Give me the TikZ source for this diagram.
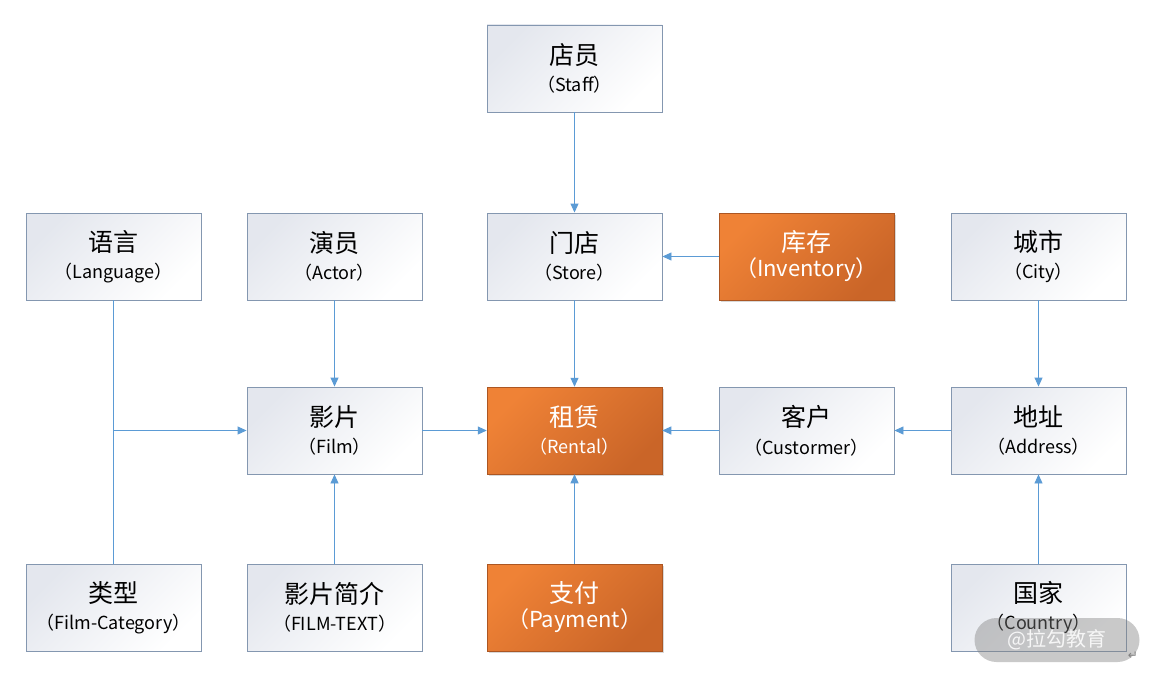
\documentclass[tikz,border=0pt]{standalone}
\usepackage{fontspec}
\setmainfont{Noto Sans CJK SC}
\newfontfamily\symfont{DejaVu Sans}
\usetikzlibrary{arrows.meta,shadows}
\definecolor{linec}{HTML}{5B9BD5}
\definecolor{boxline}{HTML}{8497B0}
\definecolor{boxtop}{HTML}{E4E7EE}
\definecolor{orA}{HTML}{EF8236}
\definecolor{orB}{HTML}{CA6528}
\tikzset{
  ent/.style={draw=boxline, line width=0.9pt, minimum width=175pt, minimum height=87pt,
    inner sep=0pt, align=center, top color=boxtop, bottom color=white, shading angle=45},
  hot/.style={draw=orB!85!black, line width=0.5pt, minimum width=175pt, minimum height=87pt,
    inner sep=0pt, align=center, text=white, top color=orA, bottom color=orB, shading angle=45,
    drop shadow={shadow xshift=2pt, shadow yshift=-2pt, opacity=0.3}},
  link/.style={draw=linec, line width=0.9pt, -{Triangle[length=9pt,width=8pt]}},
  plain/.style={draw=linec, line width=0.9pt},
}
\newcommand{\cn}[1]{{\fontsize{25}{28}\selectfont #1}}
\newcommand{\en}[1]{{\fontsize{18}{24}\selectfont #1}}
\newcommand{\enb}[1]{{\fontsize{22}{28}\selectfont #1}}
\begin{document}
\begin{tikzpicture}[x=1pt,y=-1pt]
\useasboundingbox (0,0) rectangle (1155,679);
\fill[white] (0,0) rectangle (1155,679);
\node[ent] (staff) at (574.5,68.5) {\cn{店员}\\[9pt]\en{（Staff）}};
\node[ent] (lang) at (113.5,256.5) {\cn{语言}\\[9pt]\en{（Language）}};
\node[ent] (actor) at (334.5,256.5) {\cn{演员}\\[9pt]\en{（Actor）}};
\node[ent] (store) at (574.5,256.5) {\cn{门店}\\[9pt]\en{（Store）}};
\node[hot] (inv) at (806.5,256.5) {\cn{库存}\\[3pt]\enb{（Inventory）}};
\node[ent] (city) at (1038.5,256.5) {\cn{城市}\\[9pt]\en{（City）}};
\node[ent] (film) at (334.5,430.5) {\cn{影片}\\[9pt]\en{（Film）}};
\node[hot] (rental) at (574.5,430.5) {\cn{租赁}\\[9pt]\en{（Rental）}};
\node[ent] (cust) at (806.5,430.5) {\cn{客户}\\[9pt]\en{（Custormer）}};
\node[ent] (addr) at (1038.5,430.5) {\cn{地址}\\[9pt]\en{（Address）}};
\node[ent] (cat) at (113.5,607.5) {\cn{类型}\\[9pt]\en{（Film-Category）}};
\node[ent] (ftext) at (334.5,607.5) {\cn{影片简介}\\[9pt]\en{（FILM-TEXT）}};
\node[hot] (pay) at (574.5,607.5) {\cn{支付}\\[3pt]\enb{（Payment）}};
\node[ent] (country) at (1038.5,607.5) {\cn{国家}\\[9pt]\en{（Country）}};
% connectors
\draw[link] (staff) -- (store);
\draw[link] (inv) -- (store);
\draw[link] (store) -- (rental);
\draw[link] (actor) -- (film);
\draw[plain] (lang) -- (cat);
\coordinate (br) at (lang.south |- film.west);
\draw[link] (br) -- (film);
\draw[link] (film) -- (rental);
\draw[link] (cust) -- (rental);
\draw[link] (addr) -- (cust);
\draw[link] (city) -- (addr);
\draw[link] (country) -- (addr);
\draw[link] (ftext) -- (film);
\draw[link] (pay) -- (rental);
% watermark
\node[fill=gray, fill opacity=0.42, text opacity=0.85, text=white, rounded corners=22pt,
  minimum width=165pt, minimum height=44pt, font=\fontsize{20}{24}\selectfont] (wm) at (1057,640) {@拉勾教育};
\node[text=gray, font=\symfont\fontsize{12}{13}\selectfont, inner sep=0pt] (ret) at (1133,656) {↵};
\end{tikzpicture}
\end{document}
